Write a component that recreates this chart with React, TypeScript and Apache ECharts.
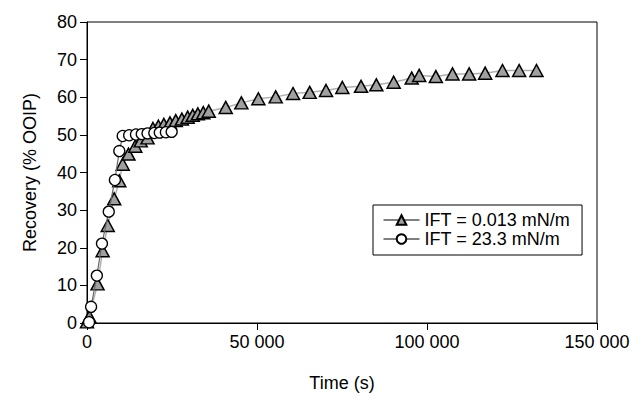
import React, { useEffect, useRef } from "react";
import * as echarts from "echarts";

const triTime = [0, 700, 3100, 4600, 6100, 8000, 9500, 10500, 12200, 14200, 15800, 17800, 19400, 21000, 22600, 24400, 26100, 27900, 29600, 31100, 32600, 34200, 35800, 40800, 45400, 50400, 55500, 60600, 65500, 70300, 75100, 80600, 85100, 90200, 95500, 97700, 102600, 107500, 112400, 117100, 122200, 127100, 132200];
const triRec = [0.3, 1.7, 10.4, 19.2, 25.9, 33.0, 37.8, 42.2, 44.9, 47.0, 48.4, 49.2, 51.7, 52.3, 52.8, 53.2, 53.8, 54.2, 54.7, 55.2, 55.6, 55.9, 56.3, 57.3, 58.5, 59.6, 60.1, 61.0, 61.3, 61.8, 62.6, 62.9, 63.3, 64.0, 65.1, 65.8, 65.5, 66.2, 66.2, 66.4, 67.1, 67.1, 67.1];

const circTime = [600, 1200, 2900, 4400, 6400, 8200, 9500, 10500, 12400, 14400, 16100, 17800, 19800, 21400, 23200, 24900];
const circRec = [0.2, 4.3, 12.6, 21.1, 29.6, 38.0, 45.7, 49.7, 49.9, 50.1, 50.2, 50.4, 50.5, 50.6, 50.7, 50.8];

const seriesNames = ["IFT = 0.013 mN/m", "IFT = 23.3 mN/m"];
const xTitle = "Time (s)";
const yTitle = "Recovery (% OOIP)";

const FONT = "'Liberation Sans', Arial, sans-serif";

function fmtThousands(v: number): string {
  const s = String(Math.round(v));
  return s.replace(/\B(?=(\d{3})+(?!\d))/g, " ");
}

export default function App() {
  const ref = useRef<HTMLDivElement>(null);
  useEffect(() => {
    if (!ref.current) return;
    const chart = echarts.init(ref.current, undefined, { renderer: "svg" });
    const tri = triTime.map((t, i) => [t, triRec[i]]);
    const circ = circTime.map((t, i) => [t, circRec[i]]);
    chart.setOption({
      animation: false,
      backgroundColor: "#fff",
      textStyle: { fontFamily: FONT },
      grid: {
        left: 87,
        right: 45,
        top: 22,
        bottom: 83,
        show: true,
        borderColor: "#000",
        borderWidth: 1,
        backgroundColor: "transparent",
      },
      xAxis: {
        type: "value",
        min: 0,
        max: 150000,
        interval: 50000,
        name: xTitle,
        nameLocation: "middle",
        nameGap: 51,
        nameTextStyle: { fontSize: 18, color: "#000", fontFamily: FONT },
        axisLine: { show: true, lineStyle: { color: "#000", width: 1 } },
        axisTick: { show: true, inside: false, length: 7, lineStyle: { color: "#000" } },
        axisLabel: { fontSize: 18, color: "#000", margin: 10, fontFamily: FONT, formatter: (v: number) => fmtThousands(v) },
        splitLine: { show: false },
      },
      yAxis: {
        type: "value",
        min: 0,
        max: 80,
        interval: 10,
        name: yTitle,
        nameLocation: "middle",
        nameGap: 48,
        nameTextStyle: { fontSize: 18, color: "#000", fontFamily: FONT },
        axisLine: { show: true, lineStyle: { color: "#000", width: 1 } },
        axisTick: { show: true, inside: false, length: 7, lineStyle: { color: "#000" } },
        axisLabel: { fontSize: 18, color: "#000", margin: 10, fontFamily: FONT },
        splitLine: { show: false },
      },
      legend: {
        orient: "vertical",
        left: 373,
        top: 205,
        backgroundColor: "#fff",
        borderColor: "#000",
        borderWidth: 1,
        borderRadius: 0,
        padding: [6, 12, 7, 10],
        itemGap: 1,
        itemWidth: 36,
        itemHeight: 12,
        textStyle: { fontSize: 18, lineHeight: 18, color: "#000", fontFamily: FONT },
        lineStyle: { color: "#000", width: 1 },
        data: seriesNames,
      },
      series: [
        {
          name: seriesNames[0],
          type: "line",
          data: tri,
          symbol: "triangle",
          symbolSize: [13, 12],
          itemStyle: { color: "#a0a0a0", borderColor: "#000", borderWidth: 1.5 },
          lineStyle: { color: "#b0b0b0", width: 1.5 },
          z: 2,
        },
        {
          name: seriesNames[1],
          type: "line",
          data: circ,
          symbol: "circle",
          symbolSize: 11,
          itemStyle: { color: "#fff", borderColor: "#000", borderWidth: 1.3 },
          lineStyle: { color: "#666", width: 1.2 },
          z: 3,
        },
      ],
    });
    return () => chart.dispose();
  }, []);
  return (
    <div
      ref={ref}
      style={{ position: "fixed", left: 0, top: 0, width: 642, height: 406, background: "#fff" }}
    />
  );
}
